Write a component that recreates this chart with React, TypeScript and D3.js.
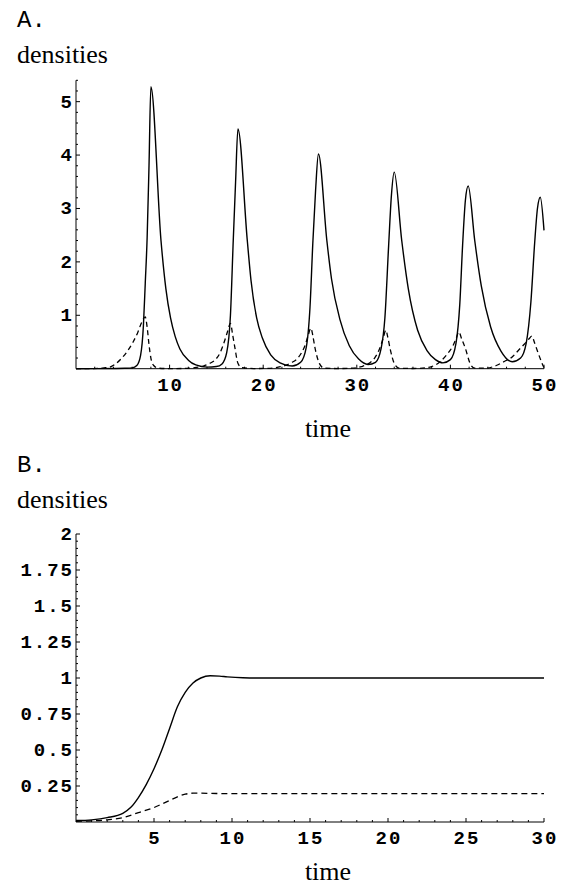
import React, { useRef, useEffect } from 'react';
import * as d3 from 'd3';

// panel A: time, density
const solidA: [number, number][] = [
  [0, 0.0], [2, 0.001], [4, 0.004], [5.2, 0.008], [6.0, 0.015], [6.5, 0.06], [6.9, 0.25], [7.2, 0.8],
  [7.4, 1.6], [7.6, 2.45], [7.8, 3.8], [8.0, 5.28], [9.08, 2.4], [9.6, 1.5],
  [10.1, 0.95], [10.6, 0.6], [11.1, 0.37], [12.0, 0.16], [12.8, 0.07], [14.0, 0.03], [15.0, 0.04],
  [15.6, 0.09], [16.1, 0.3], [16.5, 1.0], [16.8, 2.4], [17.05, 3.5], [17.3, 4.49],
  [18.3, 2.4], [18.7, 1.65], [19.3, 0.95], [19.9, 0.58], [20.8, 0.26], [21.8, 0.11],
  [23.1, 0.05], [24.0, 0.12], [24.6, 0.4], [25.0, 1.15], [25.3, 2.35], [25.6, 3.35], [25.9, 4.02],
  [26.8, 2.4], [27.3, 1.68], [28.2, 0.92], [29.2, 0.43], [30.2, 0.18], [31.2, 0.08],
  [32.0, 0.12], [32.6, 0.38], [33.0, 0.95], [33.4, 2.3], [33.7, 3.25], [34.0, 3.68],
  [34.8, 2.4], [35.5, 1.5], [36.5, 0.72], [37.5, 0.34], [38.4, 0.17], [39.2, 0.11], [40.0, 0.17],
  [40.6, 0.48], [41.0, 1.2], [41.3, 2.3], [41.6, 3.15], [41.9, 3.42], [42.6, 2.4],
  [43.3, 1.55], [44.3, 0.78], [45.4, 0.33], [46.6, 0.13], [47.5, 0.2], [48.1, 0.48], [48.6, 1.25],
  [49.0, 2.35], [49.3, 3.0], [49.6, 3.21], [50.0, 2.59],
];

const dashedA: [number, number][] = [
  [0, 0.0], [1.8, 0.003], [3.0, 0.015], [3.6, 0.03], [4.3, 0.1], [4.9, 0.2], [5.5, 0.33], [6.1, 0.5],
  [6.6, 0.68], [7.0, 0.86], [7.4, 0.97], [7.6, 0.78], [7.8, 0.45], [8.0, 0.2], [8.3, 0.06], [8.8, 0.01],
  [10.0, 0.002], [11.5, 0.005], [12.5, 0.015], [13.6, 0.05], [14.3, 0.1], [14.9, 0.17], [15.4, 0.3],
  [15.8, 0.48], [16.2, 0.7], [16.5, 0.85], [16.75, 0.62], [16.97, 0.4], [17.3, 0.1], [17.7, 0.02],
  [19.0, 0.003], [20.5, 0.006], [21.5, 0.025], [22.5, 0.07], [23.1, 0.12], [23.6, 0.18], [24.1, 0.3],
  [24.5, 0.45], [24.8, 0.62], [25.1, 0.76], [25.3, 0.62], [25.5, 0.42], [26.0, 0.1], [26.5, 0.01],
  [28.0, 0.003], [29.5, 0.01], [30.5, 0.04], [31.3, 0.1], [31.9, 0.2], [32.4, 0.36], [32.8, 0.56],
  [33.1, 0.72], [33.3, 0.6], [33.55, 0.38], [34.0, 0.1], [34.5, 0.01], [36.0, 0.004], [37.0, 0.01],
  [38.0, 0.04], [38.9, 0.13], [39.6, 0.26], [40.3, 0.44], [40.6, 0.56], [40.9, 0.69], [41.2, 0.56],
  [41.6, 0.38], [42.1, 0.1], [42.6, 0.01], [43.8, 0.01], [44.9, 0.06], [45.8, 0.14], [46.6, 0.22],
  [47.3, 0.35], [48.0, 0.48], [48.4, 0.56], [48.7, 0.61], [49.0, 0.48], [49.2, 0.38], [49.75, 0.12],
  [50.0, 0.02],
];

// panel B
const solidB: [number, number][] = [
  [0, 0.01], [1, 0.015], [2, 0.03], [3, 0.06], [3.5, 0.1], [4, 0.17], [4.5, 0.26], [5, 0.37],
  [5.5, 0.5], [6, 0.65], [6.5, 0.8], [7, 0.9], [7.5, 0.965], [8, 1.0], [8.6, 1.016], [9.2, 1.013],
  [9.7, 1.008], [10.7, 1.002], [12, 1.0], [30, 1.0],
];

const dashedB: [number, number][] = [
  [0, 0.005], [1, 0.008], [2, 0.015], [3, 0.03], [4, 0.065], [5, 0.1], [5.5, 0.125], [6, 0.15],
  [6.5, 0.175], [7, 0.193], [7.5, 0.2], [8, 0.2], [9, 0.198], [10, 0.197], [30, 0.197],
];

const xTicksA = [10, 20, 30, 40, 50];
const yTicksA = [1, 2, 3, 4, 5];
const xTicksB = [5, 10, 15, 20, 25, 30];
const yTicksB = [0.25, 0.5, 0.75, 1, 1.25, 1.5, 1.75, 2];
const yLabelsB = ['0.25', '0.5', '0.75', '1', '1.25', '1.5', '1.75', '2'];

const TICK_FONT = '"Liberation Mono", monospace';
const SERIF = '"Liberation Serif", serif';

type PanelCfg = {
  letter: string;
  top: number;          // baseline of the letter
  xDomain: [number, number];
  yDomain: [number, number];
  yRange: [number, number]; // [bottom, top] pixel
  xTicks: number[];
  yTicks: number[];
  yLabels?: string[];
  xMinor: number;
  yMinor: number;
  solid: [number, number][];
  dashed: [number, number][];
  dash: string;
  timeY: number;
};

const drawPanel = (svg: any, cfg: PanelCfg) => {
  const x = d3.scaleLinear().domain(cfg.xDomain).range([76, 544]);
  const y = d3.scaleLinear().domain(cfg.yDomain).range(cfg.yRange);
  const g = svg.append('g');

  g.append('text')
    .attr('x', 17).attr('y', cfg.top)
    .style('font-family', TICK_FONT).style('font-size', '24px')
    .text(cfg.letter);
  g.append('text')
    .attr('x', 17).attr('y', cfg.top + 36)
    .style('font-family', SERIF).style('font-size', '26px')
    .text('densities');
  g.append('text')
    .attr('x', 328).attr('y', cfg.timeY)
    .attr('text-anchor', 'middle')
    .style('font-family', SERIF).style('font-size', '26px')
    .text('time');

  // axes
  const y0 = y(0);
  g.append('line').attr('x1', x(0)).attr('x2', x(cfg.xDomain[1])).attr('y1', y0).attr('y2', y0)
    .attr('stroke', '#000').attr('stroke-width', 1);
  g.append('line').attr('x1', x(0)).attr('x2', x(0)).attr('y1', y0).attr('y2', y(cfg.yDomain[1]))
    .attr('stroke', '#000').attr('stroke-width', 1);

  const xMinors = d3.range(cfg.xMinor, cfg.xDomain[1] + 1e-6, cfg.xMinor)
    .filter(v => !cfg.xTicks.some(t => Math.abs(t - v) < 1e-6));
  const yMinors = d3.range(cfg.yMinor, cfg.yDomain[1] + 1e-6, cfg.yMinor)
    .filter(v => !cfg.yTicks.some(t => Math.abs(t - v) < 1e-6));

  g.selectAll('.xmaj').data(cfg.xTicks).enter().append('line')
    .attr('x1', (d: number) => x(d)).attr('x2', (d: number) => x(d))
    .attr('y1', y0).attr('y2', y0 - 4).attr('stroke', '#000');
  g.selectAll('.xmin').data(xMinors).enter().append('line')
    .attr('x1', (d: number) => x(d)).attr('x2', (d: number) => x(d))
    .attr('y1', y0).attr('y2', y0 - 2).attr('stroke', '#000');
  g.selectAll('.ymaj').data(cfg.yTicks).enter().append('line')
    .attr('x1', x(0)).attr('x2', x(0) + 4)
    .attr('y1', (d: number) => y(d)).attr('y2', (d: number) => y(d)).attr('stroke', '#000');
  g.selectAll('.ymin').data(yMinors).enter().append('line')
    .attr('x1', x(0)).attr('x2', x(0) + 2)
    .attr('y1', (d: number) => y(d)).attr('y2', (d: number) => y(d)).attr('stroke', '#000');

  g.selectAll('.xlab').data(cfg.xTicks).enter().append('text')
    .attr('x', (d: number) => x(d) + 1).attr('y', y0 + 22)
    .attr('text-anchor', 'middle')
    .style('font-family', TICK_FONT).style('font-size', '19px').style('font-weight', 700)
    .style('letter-spacing', '2px')
    .text((d: number) => String(d));
  g.selectAll('.ylab').data(cfg.yTicks).enter().append('text')
    .attr('x', 74).attr('y', (d: number) => y(d) + 6)
    .attr('text-anchor', 'end')
    .style('font-family', TICK_FONT).style('font-size', '19px').style('font-weight', 700)
    .style('letter-spacing', '2px')
    .text((d: number, i: number) => (cfg.yLabels ? cfg.yLabels[i] : String(d)));

  const line = d3.line<[number, number]>()
    .x(d => x(d[0])).y(d => y(d[1]))
    .curve(d3.curveMonotoneX);

  g.append('path').attr('d', line(cfg.dashed)).attr('fill', 'none')
    .attr('stroke', '#000').attr('stroke-width', 1.3).attr('stroke-dasharray', cfg.dash);
  g.append('path').attr('d', line(cfg.solid)).attr('fill', 'none')
    .attr('stroke', '#000').attr('stroke-width', 1.4);
};

const App = () => {
  const svgRef = useRef<SVGSVGElement>(null);

  useEffect(() => {
    if (!svgRef.current) return;
    const svg = d3.select(svgRef.current);
    svg.selectAll('*').remove();
    svg.append('rect').attr('width', 561).attr('height', 888).attr('fill', '#fff');

    drawPanel(svg, {
      letter: 'A.', top: 27,
      xDomain: [0, 50], yDomain: [0, 5.4], yRange: [368.7, 80.3],
      xTicks: xTicksA, yTicks: yTicksA, xMinor: 2, yMinor: 0.2,
      solid: solidA, dashed: dashedA, dash: '5,3.5', timeY: 437,
    });
    drawPanel(svg, {
      letter: 'B.', top: 472,
      xDomain: [0, 30], yDomain: [0, 2], yRange: [822, 534],
      xTicks: xTicksB, yTicks: yTicksB, yLabels: yLabelsB, xMinor: 1, yMinor: 0.05,
      solid: solidB, dashed: dashedB, dash: '6,4', timeY: 880,
    });
  }, []);

  return (
    <svg
      ref={svgRef}
      width={561}
      height={888}
      style={{ position: 'absolute', left: 0, top: 0 }}
    />
  );
};

export default App;
